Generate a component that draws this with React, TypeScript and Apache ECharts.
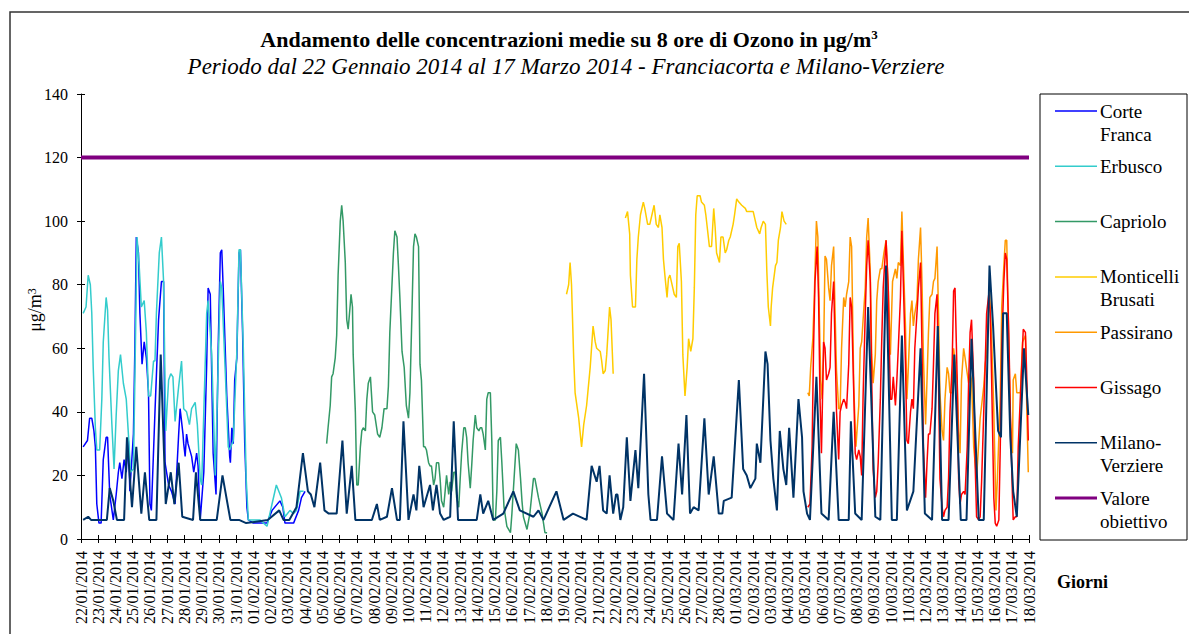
import React, { useEffect, useRef } from "react";
import * as echarts from "echarts";

// Hours counted from 22/01/2014 00:00; values are 8-hour mean ozone in µg/m³
const dayLabels = [
  "22/01/2014", "23/01/2014", "24/01/2014", "25/01/2014", "26/01/2014", "27/01/2014", "28/01/2014",
  "29/01/2014", "30/01/2014", "31/01/2014", "01/02/2014", "02/02/2014", "03/02/2014", "04/02/2014",
  "05/02/2014", "06/02/2014", "07/02/2014", "08/02/2014", "09/02/2014", "10/02/2014", "11/02/2014",
  "12/02/2014", "13/02/2014", "14/02/2014", "15/02/2014", "16/02/2014", "17/02/2014", "18/02/2014",
  "19/02/2014", "20/02/2014", "21/02/2014", "22/02/2014", "23/02/2014", "24/02/2014", "25/02/2014",
  "26/02/2014", "27/02/2014", "28/02/2014", "01/03/2014", "02/03/2014", "03/03/2014", "04/03/2014",
  "05/03/2014", "06/03/2014", "07/03/2014", "08/03/2014", "09/03/2014", "10/03/2014", "11/03/2014",
  "12/03/2014", "13/03/2014", "14/03/2014", "15/03/2014", "16/03/2014", "17/03/2014", "18/03/2014",
];

const yTicks = [0, 20, 40, 60, 80, 100, 120, 140];

const corteFranca: [number, number | null][] = [
  [3, 29], [9, 31], [12, 38], [15, 38], [18, 34], [20, 29], [22, 11], [25, 5], [28, 5], [31, 25], [35, 32], [37, 32],
  [40, 14], [45, 6], [49, 14], [52, 21], [54, 24], [57, 19], [60, 25], [63, 21], [66, 31], [68, 15], [73, 33], [75, 60],
  [77, 95], [80, 90], [82, 71], [85, 55], [88, 62], [91, 57], [94, 46], [96, 11], [98, 9], [103, 40], [108, 69], [112, 81],
  [115, 81], [117, 24], [122, 17], [126, 15], [131, 11], [136, 33], [138, 41], [142, 33], [143, 30], [145, 26], [147, 33],
  [149, 30], [154, 26], [157, 21], [161, 27], [163, 23], [166, 6], [171, 21], [175, 55], [177, 79], [180, 77], [184, 27],
  [188, 14], [191, 60], [194, 90], [196, 91], [198, 79], [203, 45], [207, 26], [208, 24], [210, 35], [212, 30], [214, 50],
  [217, 57], [220, 90], [222, 91], [225, 65], [228, 30], [231, 10], [233, 6], [240, 5], [259, 5], [266, 9], [277, 12],
  [281, 10], [284, 5], [296, 5], [303, 9], [307, 13], [312, 15],
];

const erbusco: [number, number | null][] = [
  [3, 71], [7, 73], [10, 83], [13, 80], [15, 71], [17, 54], [20, 35], [22, 28], [26, 28], [29, 44], [31, 62], [35, 76],
  [37, 72], [39, 57], [43, 36], [46, 22], [49, 39], [52, 53], [55, 58], [59, 49], [63, 44], [66, 33], [69, 21], [73, 22],
  [75, 50], [78, 95], [81, 86], [84, 73], [88, 75], [91, 65], [94, 45], [97, 45], [101, 56], [103, 56], [105, 71], [109, 90],
  [112, 95], [115, 81], [118, 34], [122, 50], [125, 52], [128, 51], [131, 37], [136, 48], [140, 56], [143, 41], [147, 40],
  [151, 36], [154, 41], [159, 43], [162, 36], [166, 19], [168, 17], [171, 40], [175, 71], [177, 75], [182, 58], [187, 20],
  [189, 37], [194, 81], [196, 79], [201, 52], [205, 29], [207, 28], [212, 31], [217, 59], [220, 91], [222, 91], [226, 60],
  [230, 19], [233, 6], [240, 6], [249, 6], [259, 4], [266, 11], [272, 17], [279, 13], [284, 7], [291, 9], [296, 8],
  [300, 9], [305, 15], [310, 15],
];

const capriolo: [number, number | null][] = [
  [342, 30], [344, 35], [347, 42], [349, 51], [351, 52], [354, 57], [356, 64], [358, 83], [361, 100], [363, 105], [365, 100],
  [368, 87], [370, 69], [372, 66], [375, 74], [376, 77], [378, 73], [379, 58], [382, 40], [384, 17], [386, 17], [389, 29],
  [391, 34], [393, 35], [396, 34], [398, 44], [400, 49], [403, 51], [406, 40], [409, 39], [413, 33], [416, 32], [419, 35],
  [422, 41], [426, 41], [428, 48], [430, 65], [433, 80], [435, 90], [437, 97], [440, 95], [442, 86], [444, 76], [447, 59],
  [450, 54], [453, 42], [456, 38], [458, 46], [461, 73], [463, 92], [465, 96], [467, 95], [470, 92], [472, 55], [474, 50],
  [477, 29], [479, 29], [481, 28], [484, 24], [486, 23], [488, 23], [491, 17], [493, 19], [495, 24], [498, 24], [500, 19],
  [502, 12], [505, 10], [507, 15], [509, 20], [512, 14], [514, 18], [516, 15], [519, 21], [521, 21], [523, 13], [526, 10],
  [528, 19], [530, 27], [533, 35], [535, 35], [537, 32], [539, 24], [542, 16], [544, 23], [546, 31], [549, 39], [551, 35],
  [554, 34], [556, 35], [558, 35], [560, 33], [563, 28], [565, 44], [567, 46], [570, 46], [572, 31], [574, 6], [577, 6],
  [579, 15], [581, 31], [584, 32], [586, 24], [589, 10], [593, 4], [598, 2], [600, 8], [603, 19], [606, 30], [609, 28],
  [612, 19], [614, 12], [616, 7], [621, 3], [625, 8], [630, 19], [632, 19], [637, 13], [642, 8], [646, 2], [649, 2],
];

const monticelliBrusati: [number, number | null][] = [
  [676, 77], [679, 80], [681, 87], [683, 80], [686, 57], [688, 46], [693, 38], [697, 29], [700, 36], [704, 42], [709, 54],
  [713, 67], [716, 62], [718, 60], [723, 59], [725, 56], [727, 52], [730, 53], [732, 58], [736, 73], [738, 69], [741, 52],
  [742, null],
  [758, 101], [761, 103], [764, 96], [765, 83], [768, 73], [772, 73], [774, 88], [776, 95], [779, 102], [783, 106], [785, 104],
  [789, 99], [792, 99], [795, 102], [798, 105], [801, 99], [804, 98], [806, 102], [809, 98], [811, 88], [813, 83], [816, 76],
  [818, 82], [820, 83], [824, 79], [826, 77], [829, 76], [831, 92], [833, 93], [836, 81], [838, 58], [841, 45], [844, 54],
  [846, 63], [849, 59], [852, 63], [854, 79], [856, 102], [858, 108], [862, 108], [864, 106], [868, 105], [870, 102],
  [872, 98], [875, 92], [878, 92], [881, 104], [883, 98], [885, 90], [889, 87], [891, 95], [894, 95], [897, 90], [899, 91],
  [902, 94], [904, 95], [908, 99], [910, 102], [913, 107], [916, 106], [920, 105], [925, 104], [927, 103], [936, 103],
  [939, 100], [941, 98], [945, 96], [947, 98], [950, 100], [953, 99], [955, 84], [957, 73], [960, 67], [961, 73], [963, 79],
  [967, 86], [969, 87], [971, 94], [974, 98], [976, 103], [979, 100], [982, 99],
];

const passirano: [number, number | null][] = [
  [1012, 46], [1014, 45], [1016, 54], [1019, 63], [1021, 76], [1024, 100], [1026, 95], [1028, 71], [1030, 50], [1032, 44],
  [1034, 59], [1036, 89], [1038, 88], [1041, 79], [1043, 75], [1045, 86], [1048, 92], [1050, 71], [1052, 53], [1055, 41],
  [1057, 41], [1059, 60], [1062, 76], [1064, 73], [1066, 77], [1069, 81], [1071, 95], [1073, 92], [1076, 48], [1079, 29],
  [1083, 42], [1085, 60], [1087, 62], [1089, 69], [1092, 79], [1094, 95], [1096, 101], [1099, 84], [1101, 58], [1103, 49],
  [1106, 58], [1108, 75], [1110, 81], [1113, 85], [1115, 85], [1118, 90], [1121, 94], [1124, 79], [1127, 58], [1130, 81],
  [1134, 85], [1136, 82], [1138, 87], [1141, 86], [1143, 103], [1145, 88], [1148, 67], [1150, 44], [1152, 54], [1155, 71],
  [1157, 75], [1159, 67], [1161, 71], [1164, 75], [1166, 88], [1169, 98], [1171, 81], [1173, 57], [1176, 36], [1178, 50],
  [1180, 65], [1182, 76], [1185, 77], [1187, 81], [1189, 82], [1192, 92], [1194, 71], [1196, 46], [1199, 34], [1201, 31],
  [1203, 44], [1206, 54], [1208, 52], [1210, 46], [1213, 46], [1215, 60], [1217, 56], [1220, 50], [1222, 34], [1224, 27],
  [1226, 50], [1229, 60], [1231, 57], [1234, 52], [1236, 49], [1238, 52], [1240, 50], [1243, 29], [1247, 19], [1252, 38],
  [1254, 42], [1257, 48], [1259, 55], [1261, 58], [1265, 78], [1268, 63], [1271, 40], [1274, 9], [1276, 19], [1280, 45],
  [1282, 73], [1285, 86], [1287, 94], [1289, 94], [1292, 60], [1294, 38], [1297, 27], [1298, 50], [1301, 52], [1303, 46],
  [1305, 46], [1308, 46], [1311, 62], [1315, 64], [1317, 40], [1319, 21],
];

const gissago: [number, number | null][] = [
  [1012, 10], [1015, 11], [1018, 29], [1020, 60], [1022, 81], [1025, 92], [1027, 76], [1029, 44], [1031, 27], [1034, 62],
  [1036, 60], [1038, 50], [1041, 52], [1043, 54], [1045, 71], [1048, 81], [1050, 60], [1052, 40], [1055, 25], [1057, 40],
  [1059, 42], [1062, 44], [1064, 43], [1066, 41], [1069, 55], [1071, 76], [1073, 73], [1076, 46], [1078, 27], [1080, 25],
  [1083, 28], [1085, 26], [1087, 20], [1089, 45], [1092, 71], [1094, 86], [1096, 94], [1099, 81], [1101, 50], [1103, 22],
  [1106, 13], [1108, 15], [1110, 24], [1113, 44], [1115, 63], [1117, 79], [1121, 94], [1124, 79], [1127, 44], [1129, 44],
  [1131, 51], [1134, 42], [1136, 50], [1138, 60], [1141, 76], [1143, 97], [1145, 81], [1148, 55], [1150, 31], [1152, 30],
  [1155, 40], [1157, 44], [1159, 41], [1161, 60], [1164, 71], [1166, 79], [1169, 87], [1171, 60], [1173, 29], [1176, 13],
  [1178, 24], [1180, 33], [1182, 33], [1185, 41], [1187, 55], [1189, 71], [1192, 77], [1194, 50], [1196, 19], [1199, 10],
  [1201, 7], [1203, 9], [1206, 10], [1208, 19], [1210, 40], [1213, 55], [1215, 78], [1217, 79], [1220, 50], [1222, 19],
  [1224, 11], [1226, 14], [1229, 15], [1231, 14], [1234, 29], [1236, 50], [1238, 65], [1240, 69], [1243, 50], [1245, 24],
  [1247, 7], [1250, 6], [1252, 7], [1254, 18], [1257, 40], [1259, 55], [1261, 71], [1264, 77], [1266, 71], [1268, 50],
  [1271, 13], [1273, 5], [1275, 4], [1278, 6], [1280, 29], [1282, 60], [1285, 81], [1287, 90], [1289, 88], [1292, 63],
  [1294, 40], [1297, 13], [1298, 6], [1301, 7], [1303, 7], [1305, 29], [1308, 45], [1310, 55], [1312, 66], [1315, 65],
  [1317, 50], [1319, 31],
];

const milanoVerziere: [number, number | null][] = [
  [3, 6], [10, 7], [14, 6], [36, 6], [40, 16], [45, 12], [50, 6], [60, 6], [64, 32], [71, 10], [77, 29], [84, 8], [89, 21],
  [95, 6], [105, 6], [111, 58], [118, 11], [125, 21], [130, 11], [136, 24], [141, 7], [156, 6], [160, 21], [166, 6],
  [189, 6], [197, 20], [208, 6], [220, 6], [230, 5], [260, 6], [276, 9], [282, 6], [290, 6], [300, 10], [309, 27],
  [316, 15], [320, 14], [325, 10], [333, 24], [339, 9], [345, 8], [356, 8], [364, 31], [370, 8], [377, 23], [382, 6],
  [405, 6], [412, 11], [416, 6], [426, 7], [433, 16], [440, 6], [444, 6], [449, 37], [456, 6], [463, 14], [467, 9],
  [471, 23], [477, 10], [486, 17], [490, 9], [495, 17], [500, 8], [505, 6], [514, 7], [519, 37], [525, 6], [551, 6],
  [556, 14], [560, 8], [567, 12], [574, 6], [588, 8], [602, 15], [611, 9], [630, 7], [637, 9], [644, 6], [662, 15],
  [672, 6], [685, 8], [704, 6], [711, 23], [718, 18], [722, 23], [727, 9], [732, 8], [736, 20], [741, 8], [745, 14],
  [747, 14], [751, 6], [755, 10], [760, 32], [765, 12], [772, 28], [776, 16], [784, 52], [790, 14], [793, 6], [802, 6],
  [809, 26], [816, 8], [825, 6], [832, 30], [837, 14], [843, 39], [848, 8], [853, 10], [860, 9], [868, 38], [874, 14],
  [881, 26], [888, 8], [893, 8], [895, 12], [906, 13], [916, 50], [922, 22], [927, 20], [932, 16], [939, 19], [941, 30],
  [946, 24], [953, 59], [956, 55], [960, 31], [964, 19], [969, 9], [973, 34], [978, 22], [982, 17], [986, 35], [992, 13],
  [999, 44], [1004, 32], [1006, 15], [1011, 8], [1015, 6], [1024, 51], [1031, 8], [1041, 6], [1048, 40], [1055, 6],
  [1069, 6], [1072, 37], [1078, 8], [1087, 6], [1096, 73], [1106, 7], [1113, 6], [1121, 86], [1129, 6], [1136, 6],
  [1143, 64], [1150, 9], [1159, 15], [1169, 60], [1175, 8], [1185, 6], [1193, 67], [1199, 6], [1208, 6], [1216, 58],
  [1225, 6], [1233, 6], [1240, 63], [1250, 6], [1257, 6], [1265, 86], [1270, 67], [1277, 34], [1281, 32], [1284, 71],
  [1289, 71], [1294, 32], [1298, 15], [1303, 7], [1313, 60], [1319, 39],
];

const valoreObiettivo: [number, number | null][] = [
  [0, 120], [1320, 120],
];

const seriesNames = [
  "Corte Franca", "Erbusco", "Capriolo", "Monticelli Brusati", "Passirano", "Gissago", "Milano-Verziere", "Valore obiettivo",
];
const legendLabels = [
  "Corte\nFranca", "Erbusco", "Capriolo", "Monticelli\nBrusati", "Passirano", "Gissago", "Milano-\nVerziere", "Valore\nobiettivo",
];
const seriesColors = ["#0000FF", "#33CCCC", "#339966", "#FFCC00", "#FF9900", "#FF0000", "#003366", "#800080"];
const seriesWidths = [1.5, 1.5, 1.5, 1.5, 1.5, 1.5, 2, 4];
const seriesData = [corteFranca, erbusco, capriolo, monticelliBrusati, passirano, gissago, milanoVerziere, valoreObiettivo];

const FONT = "Liberation Serif";

export default function App() {
  const ref = useRef<HTMLDivElement>(null);

  useEffect(() => {
    if (!ref.current) return;
    const chart = echarts.init(ref.current, undefined, { renderer: "svg" });

    const gridLeft = 81;
    const gridTop = 94;
    const gridW = 948;
    const gridH = 445;
    const maxHour = (dayLabels.length - 1) * 24;

    const legendGraphics: any[] = [];
    const legendTop = 111;
    const legendStep = 55.3;
    legendLabels.forEach((lbl, i) => {
      const y = legendTop + i * legendStep;
      legendGraphics.push({
        type: "line",
        shape: { x1: 1055, y1: y, x2: 1097, y2: y },
        style: { stroke: seriesColors[i], lineWidth: i === 7 ? 3 : 1.5 },
      });
      legendGraphics.push({
        type: "text",
        x: 1100,
        y: y - 11.5,
        style: {
          text: lbl,
          fill: "#000",
          fontFamily: FONT,
          fontSize: 19,
          lineHeight: 23,
          align: "left",
          verticalAlign: "top",
        },
      });
    });

    const option: any = {
      animation: false,
      backgroundColor: "#fff",
      textStyle: { fontFamily: FONT },
      grid: { left: gridLeft, top: gridTop, width: gridW, height: gridH, containLabel: false },
      xAxis: [
        {
          type: "value",
          min: 0,
          max: maxHour,
          interval: 24,
          axisLine: { show: true, lineStyle: { color: "#000", width: 1 } },
          axisTick: { show: true, inside: false, length: 4, lineStyle: { color: "#000" } },
          axisLabel: {
            show: true,
            rotate: 90,
            margin: 12,
            fontFamily: FONT,
            fontSize: 16,
            color: "#000",
            showMinLabel: true,
            showMaxLabel: true,
            formatter: (v: number) => dayLabels[Math.round(v / 24)] ?? "",
          },
          splitLine: { show: false },
        },
        {
          type: "value",
          min: 0,
          max: maxHour,
          interval: 24,
          position: "bottom",
          axisLine: { show: false },
          axisTick: { show: true, inside: true, length: 4, lineStyle: { color: "#000" } },
          axisLabel: { show: false },
          splitLine: { show: false },
        },
      ],
      yAxis: [
        {
          type: "value",
          min: yTicks[0],
          max: yTicks[yTicks.length - 1],
          interval: 20,
          axisLine: { show: true, lineStyle: { color: "#000", width: 1 } },
          axisTick: { show: true, inside: false, length: 4, lineStyle: { color: "#000" } },
          axisLabel: { margin: 13, fontFamily: FONT, fontSize: 16, color: "#000" },
          splitLine: { show: false },
        },
        {
          type: "value",
          min: yTicks[0],
          max: yTicks[yTicks.length - 1],
          interval: 20,
          position: "left",
          axisLine: { show: false },
          axisTick: { show: true, inside: true, length: 4, lineStyle: { color: "#000" } },
          axisLabel: { show: false },
          splitLine: { show: false },
        },
      ],
      series: seriesData.map((d, i) => ({
        type: "line",
        name: seriesNames[i],
        data: d,
        xAxisIndex: 0,
        yAxisIndex: 0,
        showSymbol: false,
        symbol: "none",
        connectNulls: false,
        silent: true,
        lineStyle: { color: seriesColors[i], width: seriesWidths[i] },
        itemStyle: { color: seriesColors[i] },
        z: 2 + i,
      })),
      graphic: [
        {
          type: "rect",
          shape: { x: 10, y: 12, width: 1200, height: 700 },
          style: { fill: "none", stroke: "#333", lineWidth: 1.5 },
          silent: true,
        },
        {
          type: "text",
          x: 569,
          y: 39,
          style: {
            text: "Andamento delle concentrazioni medie su 8 ore di Ozono in μg/m{sup|3}",
            fontFamily: FONT,
            fontSize: 22,
            fontWeight: "bold",
            fill: "#000",
            align: "center",
            verticalAlign: "middle",
            rich: { sup: { fontSize: 13, fontWeight: "bold", fontFamily: FONT, verticalAlign: "top" } },
          },
        },
        {
          type: "text",
          x: 566,
          y: 66,
          style: {
            text: "Periodo dal 22 Gennaio 2014 al 17 Marzo 2014 - Franciacorta e Milano-Verziere",
            fontFamily: FONT,
            fontSize: 23,
            fontStyle: "italic",
            fill: "#000",
            align: "center",
            verticalAlign: "middle",
          },
        },
        {
          type: "text",
          x: 35,
          y: 310,
          rotation: Math.PI / 2,
          style: {
            text: "μg/m{sup|3}",
            fontFamily: FONT,
            fontSize: 18,
            fill: "#000",
            align: "center",
            verticalAlign: "middle",
            rich: { sup: { fontSize: 12, fontFamily: FONT, verticalAlign: "top" } },
          },
        },
        {
          type: "text",
          x: 1057,
          y: 582,
          style: {
            text: "Giorni",
            fontFamily: FONT,
            fontSize: 18,
            fontWeight: "bold",
            fill: "#000",
            align: "left",
            verticalAlign: "middle",
          },
        },
        {
          type: "rect",
          shape: { x: 1040, y: 94, width: 147, height: 446 },
          style: { fill: "#fff", stroke: "#000", lineWidth: 1 },
        },
        ...legendGraphics,
      ],
    };

    chart.setOption(option);
    return () => chart.dispose();
  }, []);

  return (
    <div
      ref={ref}
      style={{ position: "absolute", left: 0, top: 0, width: 1189, height: 634, background: "#fff" }}
    />
  );
}
